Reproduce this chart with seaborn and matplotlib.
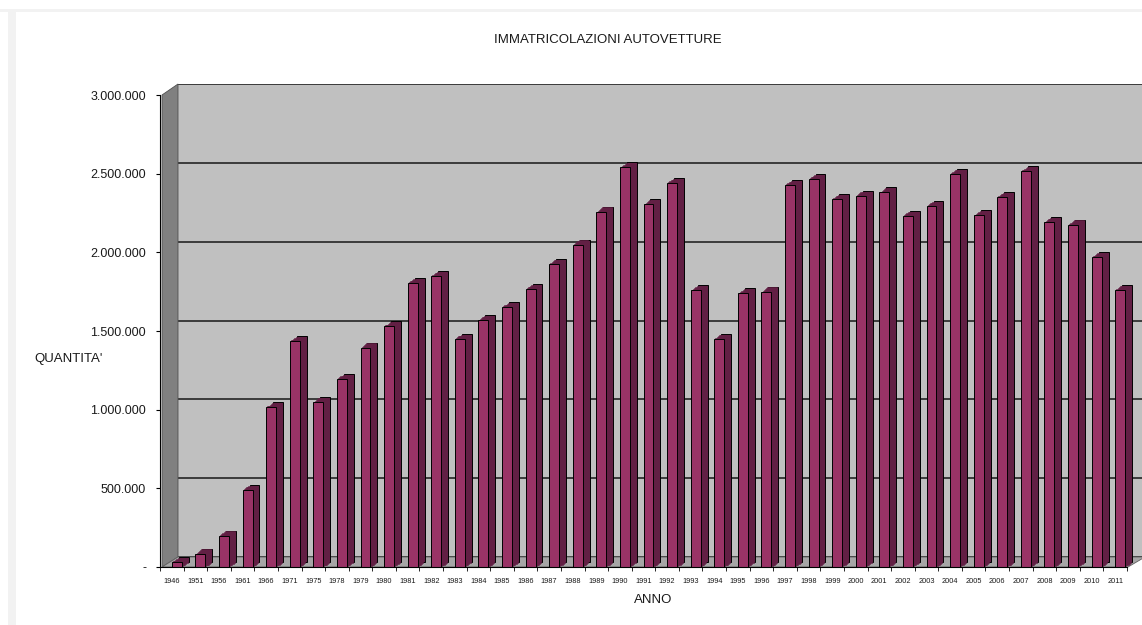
import numpy as np
import pandas as pd
import seaborn as sns
import matplotlib.pyplot as plt
from matplotlib import patheffects as pe
from matplotlib.patches import Polygon, Rectangle
from matplotlib.ticker import FuncFormatter

# dati
anni = ["1946", "1951", "1956", "1961", "1966", "1971", "1975", "1978", "1979",
        "1980", "1981", "1982", "1983", "1984", "1985", "1986", "1987", "1988",
        "1989", "1990", "1991", "1992", "1993", "1994", "1995", "1996", "1997",
        "1998", "1999", "2000", "2001", "2002", "2003", "2004", "2005", "2006",
        "2007", "2008", "2009", "2010", "2011"]
immatricolazioni = [30000, 85000, 200000, 490000, 1015000, 1435000, 1050000,
                    1195000, 1395000, 1530000, 1805000, 1850000, 1450000,
                    1570000, 1652000, 1766000, 1927000, 2049000, 2259000,
                    2540000, 2305000, 2441000, 1758000, 1451000, 1739000,
                    1751000, 2428000, 2466000, 2339000, 2360000, 2381000,
                    2233000, 2295000, 2500000, 2235000, 2352000, 2515000,
                    2193000, 2176000, 1969000, 1762000]
y_ticks = [0, 500000, 1000000, 1500000, 2000000, 2500000, 3000000]

df = pd.DataFrame({"ANNO": anni, "QUANTITA": immatricolazioni})

W, H = 1142, 625
def fx(px):
    return px / W
def fy(py):
    return 1 - py / H

sns.set_style("white")
plt.rcParams["font.family"] = ["Liberation Sans", "DejaVu Sans"]
testo = "#1a1a1a"

fig = plt.figure(figsize=(W / 100, H / 100), dpi=100)
fig.patch.set_facecolor("white")

# cornice grigio chiaro
fig.add_artist(Rectangle((0, fy(12)), 1, 3 / H, transform=fig.transFigure,
                         facecolor="#f2f2f2", edgecolor="none", zorder=-5))
fig.add_artist(Rectangle((fx(8), 0), 8 / W, fy(12), transform=fig.transFigure,
                         facecolor="#f2f2f2", edgecolor="none", zorder=-5))

# parete di fondo con la griglia
ax_back = fig.add_axes([fx(178), fy(557), 0.86, fy(84) - fy(557)])
ax_back.set_zorder(0)
ax_back.set_facecolor("#c0c0c0")
ax_back.set_ylim(0, 3000000)
ax_back.set_yticks(y_ticks)
ax_back.set_xticks([])
ax_back.grid(axis="y", color="#303030", linewidth=1.3)
ax_back.tick_params(length=0, labelleft=False)
for s in ax_back.spines.values():
    s.set_visible(False)

# parete sinistra e pavimento
fig.add_artist(Polygon([(fx(162), fy(95)), (fx(178), fy(84)), (fx(178), fy(557)),
                        (fx(162), fy(567))], closed=True, transform=fig.transFigure,
                       facecolor="#808080", edgecolor="#505050", linewidth=0.6, zorder=1))
fig.add_artist(Polygon([(fx(162), fy(567)), (fx(178), fy(557)), (fx(1145), fy(557)),
                        (fx(1128), fy(567))], closed=True, transform=fig.transFigure,
                       facecolor="#a6a6a6", edgecolor="#606060", linewidth=0.6, zorder=1))

# piano frontale con le barre
ax = fig.add_axes([fx(160), fy(567), fx(1127) - fx(160), fy(95) - fy(567)])
ax.set_zorder(2)
ax.patch.set_visible(False)

front = "#993366"
dark = "#621f44"
sns.barplot(data=df, x="ANNO", y="QUANTITA", order=anni, color=front,
            saturation=1, width=0.42, edgecolor="black", linewidth=0.7, ax=ax)

# effetto 3D delle barre
shift, side, up = 3.6, 5.0, 3.6
effects = []
for k in range(6, 0, -1):
    f = k / 6
    effects.append(pe.PathPatchEffect(offset=(shift + side * f, up * f),
                                      facecolor=dark,
                                      edgecolor="black" if k == 6 else dark,
                                      linewidth=0.7 if k == 6 else 0.4))
effects.append(pe.PathPatchEffect(offset=(shift, 0), facecolor=front,
                                  edgecolor="black", linewidth=0.7))
for p in ax.patches:
    p.set_path_effects(effects)
    p.set_clip_on(False)

ax.set_ylim(0, 3000000)
ax.set_xlim(-0.5, len(anni) - 0.5)
ax.set_yticks(y_ticks)
ax.yaxis.set_major_formatter(
    FuncFormatter(lambda v, _: "-" if v == 0 else f"{int(v):,}".replace(",", ".")))
ax.set_xticks(np.arange(-0.5, len(anni), 1), minor=True)
ax.tick_params(axis="y", direction="out", length=3, width=0.8, labelsize=9,
               pad=7, colors="black", labelcolor=testo, left=True)
ax.tick_params(axis="x", which="major", length=0, labelsize=5.3, pad=8,
               labelcolor=testo)
ax.tick_params(axis="x", which="minor", direction="out", length=3, width=0.7,
               bottom=True)
ax.set_xlabel("")
ax.set_ylabel("")
for s in ["top", "right"]:
    ax.spines[s].set_visible(False)
for s in ["left", "bottom"]:
    ax.spines[s].set_color("black")
    ax.spines[s].set_linewidth(0.8)

fig.text(fx(608), fy(40), "IMMATRICOLAZIONI AUTOVETTURE", ha="center",
         va="center", fontsize=9.5, color=testo)
fig.text(fx(34), fy(359), "QUANTITA'", ha="left", va="center", fontsize=9.5,
         color=testo)
fig.text(fx(653), fy(600), "ANNO", ha="center", va="center", fontsize=9.5,
         color=testo)

fig.savefig("out.png", dpi=100)
